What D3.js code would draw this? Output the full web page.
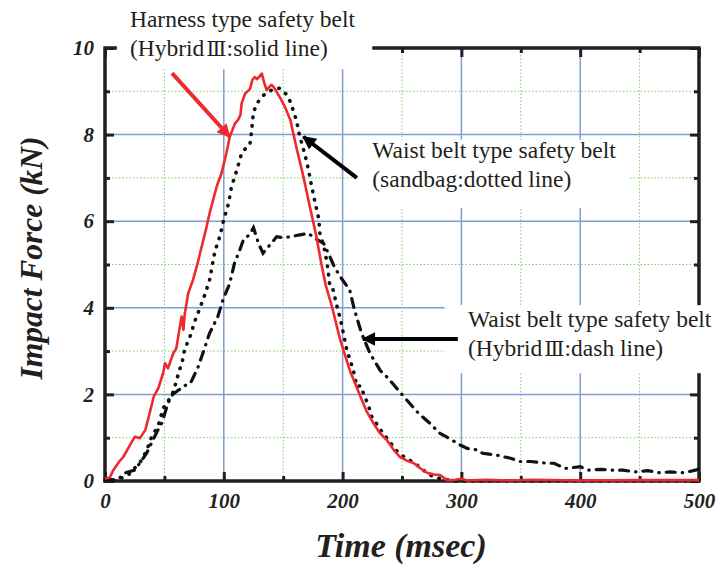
<!DOCTYPE html>
<meta charset="utf-8">
<style>
  body { margin: 0; background: #fff; }
  svg { display: block; }
  .tick text { font-family: "Liberation Serif", "Times New Roman", serif; font-weight: bold; font-style: italic; font-size: 21px; fill: #231f20; }
  .note { font-family: "Liberation Serif", "Times New Roman", serif; font-size: 23.5px; fill: #231f20; }
  .roman { font-family: "DejaVu Serif", serif; font-size: 21px; }
  .title { font-family: "Liberation Serif", "Times New Roman", serif; font-weight: bold; font-style: italic; font-size: 34px; fill: #231f20; }
</style>
<body>
<svg width="718" height="567"></svg>
<script src="https://cdn.jsdelivr.net/npm/d3@7"></script>
<script>

// [time msec, force kN]
var harness = [[0,0.05],[4,0.08],[7,0.25],[12,0.45],[15.5,0.56],[21,0.83],[25,1.02],[29.5,0.99],[34,1.18],[39,1.72],[41,1.95],[45,2.15],[49,2.5],[50.5,2.72],[53,2.6],[57.5,2.95],[60,3.06],[63,3.56],[64.5,3.8],[66,3.49],[67,3.83],[70,4.33],[74,4.64],[78,5.03],[80,5.26],[85.5,5.87],[88,6.18],[91,6.49],[94,6.8],[98,7.1],[102,7.55],[105,7.95],[109.5,8.26],[112,8.34],[114,8.45],[115,8.72],[118,8.95],[122,9.05],[124,9.26],[126,9.33],[128,9.28],[132,9.41],[134,9.2],[136,9.03],[140,9.15],[142,9.1],[147,8.87],[151.5,8.64],[156,8.34],[161,7.72],[167,7.03],[172.5,6.33],[178,5.64],[182,5.03],[186,4.5],[191,4.03],[198,3.26],[206,2.56],[215,1.95],[220,1.62],[226,1.33],[231,1.12],[237,0.95],[243,0.72],[248,0.56],[254,0.47],[260,0.41],[265,0.3],[271,0.19],[277,0.15],[282,0.14],[288,0.02],[295,0.03],[300,0.05],[305,0.01],[320,0.03],[340,0.01],[360,0.03],[400,0.01],[450,0.02],[500,0.02]];

var sandbag = [[0,0],[5,0],[10,0.02],[20,0.15],[30,0.45],[35,0.7],[39,1.0],[45,1.3],[49,1.68],[53,1.85],[56,1.95],[59,2.2],[62,2.5],[65,2.75],[67,3.04],[71.5,3.33],[76,3.72],[80,4.0],[84,4.3],[88,4.64],[92.5,5.3],[97,5.68],[100,6.04],[104,6.41],[106.5,6.8],[111,7.18],[115,7.57],[119,7.7],[122,7.78],[123.5,8.11],[125,8.53],[129,8.76],[133,8.9],[137.5,8.99],[142,9.05],[147,9.07],[152,8.95],[156,8.76],[161,8.34],[164,7.95],[168,7.57],[171,7.22],[174,6.8],[177,6.41],[180,6.05],[181,5.68],[184,5.45],[187,5.03],[189,4.56],[191,4.53],[196,3.95],[198,3.76],[203.5,3.03],[209,2.56],[212,2.18],[215,2.2],[222,1.72],[224.5,1.49],[234,1.1],[245.5,0.7],[252,0.55],[259.5,0.43],[266,0.3],[272,0.16],[278,0.08],[285,0.04],[295,0],[500,0]];

var hybridWaist = [[0,0.05],[10,0.02],[18,0.2],[25,0.25],[31,0.48],[35,0.64],[39,0.87],[44,1.15],[48,1.35],[53,1.8],[57,2.0],[62,2.1],[67,2.2],[72,2.26],[78.5,2.64],[83,3.0],[88,3.41],[95,3.8],[99.5,4.2],[105,4.56],[109,5.03],[113,5.3],[116.5,5.57],[122,5.7],[125,5.85],[127.5,5.64],[129,5.5],[133,5.26],[137.5,5.41],[144.5,5.64],[150,5.62],[156,5.64],[163,5.68],[171,5.72],[177,5.6],[184,5.49],[189,5.2],[193,4.95],[198,4.72],[206,4.41],[210,3.95],[216,3.41],[223,2.95],[231.5,2.56],[238.5,2.37],[245.5,2.14],[254,1.87],[264,1.56],[273.5,1.33],[282,1.1],[287.5,1.02],[299,0.83],[305,0.75],[312.8,0.72],[318,0.64],[329.5,0.6],[342,0.52],[349,0.45],[358,0.45],[371.5,0.41],[378,0.41],[387,0.29],[400,0.33],[407,0.25],[417,0.27],[428,0.25],[436,0.25],[446,0.21],[457,0.24],[467,0.19],[475.6,0.21],[487,0.19],[497,0.25],[500,0.28]];

var xMajor = [0,100,200,300,400,500];
var xMinor = [50,150,250,350,450];
var yMajor = [0,2,4,6,8,10];
var yMinor = [1,3,5,7,9];

// annotation text (pieces), arrows given in data units [t, F]
var notes = [
  { lines: [["Harness type safety belt"], ["(Hybrid", "Ⅲ", ":solid line)"]], at: [21, 10.48], box: [10, 225, 10.55, 9.51] },
  { lines: [["Waist belt type safety belt"], ["(sandbag:dotted line)"]], at: [225, 7.45], box: [213, 440, 7.88, 6.31] },
  { lines: [["Waist belt type safety belt"], ["(Hybrid", "Ⅲ", ":dash line)"]], at: [305.5, 3.56], box: [286, 520, 4.06, 2.49] }
];
var arrows = [
  { from: [56.4, 9.42], to: [105, 7.95], color: "#ee2a2e" },
  { from: [212, 7.0], to: [167, 7.95], color: "#000" },
  { from: [297, 3.28], to: [217, 3.28], color: "#000" }
];

var svg = d3.select("svg");
var W = 718, H = 567;

var x = d3.scaleLinear().domain([0, 500]).range([105, 699]);
var y = d3.scaleLinear().domain([0, 10]).range([481, 48]);

var defs = svg.append("defs");
arrows.forEach(function(a, i) {
  defs.append("marker")
    .attr("id", "head" + i)
    .attr("viewBox", "0 0 10 10")
    .attr("refX", 9).attr("refY", 5)
    .attr("markerWidth", 4.2).attr("markerHeight", 3.4)
    .attr("markerUnits", "strokeWidth")
    .attr("orient", "auto")
    .append("path").attr("d", "M0,0L10,5L0,10z").attr("fill", a.color);
});

// grid
var grid = svg.append("g");
grid.selectAll(".gxm").data(xMinor).enter().append("line")
  .attr("x1", d => x(d)).attr("x2", d => x(d)).attr("y1", y(10)).attr("y2", y(0))
  .attr("stroke", "#7dcf5f").attr("stroke-width", 1).attr("stroke-dasharray", "1.5,2");
grid.selectAll(".gym").data(yMinor).enter().append("line")
  .attr("x1", x(0)).attr("x2", x(500)).attr("y1", d => y(d)).attr("y2", d => y(d))
  .attr("stroke", "#7dcf5f").attr("stroke-width", 1).attr("stroke-dasharray", "1.5,2");
grid.selectAll(".gxM").data(xMajor.slice(1, -1)).enter().append("line")
  .attr("x1", d => x(d)).attr("x2", d => x(d)).attr("y1", y(10)).attr("y2", y(0))
  .attr("stroke", "#7f9fd0").attr("stroke-width", 1.5);
grid.selectAll(".gyM").data(yMajor.slice(1, -1)).enter().append("line")
  .attr("x1", x(0)).attr("x2", x(500)).attr("y1", d => y(d)).attr("y2", d => y(d))
  .attr("stroke", "#7f9fd0").attr("stroke-width", 1.5);

// frame + inward ticks
function tickAxis(axis, vals, size, tr, labels) {
  var g = svg.append("g").attr("transform", tr)
    .call(axis.tickValues(vals).tickSize(-size).tickPadding(11).tickFormat(labels ? d3.format("d") : ""));
  g.select(".domain").remove();
  g.selectAll(".tick line").attr("stroke", "#231f20").attr("stroke-width", 3);
  return g;
}
tickAxis(d3.axisLeft(y), yMajor, 9, "translate(105,0)", true);
tickAxis(d3.axisLeft(y), yMinor, 5, "translate(105,0)", false);
tickAxis(d3.axisRight(y), yMajor, 9, "translate(699,0)", false);
tickAxis(d3.axisRight(y), yMinor, 5, "translate(699,0)", false);
tickAxis(d3.axisTop(x), xMajor, 9, "translate(0,48)", false);
tickAxis(d3.axisTop(x), xMinor, 5, "translate(0,48)", false);
var bx = tickAxis(d3.axisBottom(x), xMajor, 9, "translate(0,481)", true);
bx.selectAll(".tick text").attr("y", 27).attr("dy", 0);
tickAxis(d3.axisBottom(x), xMinor, 5, "translate(0,481)", false);

svg.append("rect")
  .attr("x", x(0)).attr("y", y(10)).attr("width", x(500) - x(0)).attr("height", y(0) - y(10))
  .attr("fill", "none").attr("stroke", "#231f20").attr("stroke-width", 3.5);

// curves
var line = d3.line().x(d => x(d[0])).y(d => y(d[1]));
svg.append("path").datum(hybridWaist).attr("d", line)
  .attr("fill", "none").attr("stroke", "#111").attr("stroke-width", 3.2)
  .attr("stroke-linecap", "round").attr("stroke-dasharray", "9,7,0.5,7");
svg.append("path").datum(sandbag).attr("d", line)
  .attr("fill", "none").attr("stroke", "#111").attr("stroke-width", 3.6)
  .attr("stroke-linecap", "round").attr("stroke-dasharray", "0.5,8");
svg.append("path").datum(harness).attr("d", line)
  .attr("fill", "none").attr("stroke", "#ee2a2e").attr("stroke-width", 2.6)
  .attr("stroke-linejoin", "round");

// notes with white backing
notes.forEach(function(n) {
  svg.append("rect")
    .attr("x", x(n.box[0])).attr("y", Math.max(0, y(n.box[2])))
    .attr("width", Math.min(W, x(n.box[1])) - x(n.box[0]))
    .attr("height", y(n.box[3]) - Math.max(0, y(n.box[2])))
    .attr("fill", "#fff");
  var t = svg.append("text").attr("class", "note")
    .attr("x", x(n.at[0])).attr("y", y(n.at[1]));
  n.lines.forEach(function(parts, i) {
    parts.forEach(function(s, j) {
      var sp = t.append("tspan").text(s);
      if (j === 0) sp.attr("x", x(n.at[0])).attr("dy", i ? 29 : 0);
      if (s === "Ⅲ") sp.attr("class", "roman").attr("dx", 2);
    });
  });
});

arrows.forEach(function(a, i) {
  svg.append("line")
    .attr("x1", x(a.from[0])).attr("y1", y(a.from[1]))
    .attr("x2", x(a.to[0])).attr("y2", y(a.to[1]))
    .attr("stroke", a.color).attr("stroke-width", 4)
    .attr("marker-end", "url(#head" + i + ")");
});

// axis titles
svg.append("text").attr("class", "title")
  .attr("x", 401).attr("y", 557).attr("text-anchor", "middle")
  .text("Time (msec)");
svg.append("text").attr("class", "title").style("font-size", "31.5px")
  .attr("transform", "translate(42,258) rotate(-90)").attr("text-anchor", "middle")
  .text("Impact Force (kN)");

</script>
</body>
